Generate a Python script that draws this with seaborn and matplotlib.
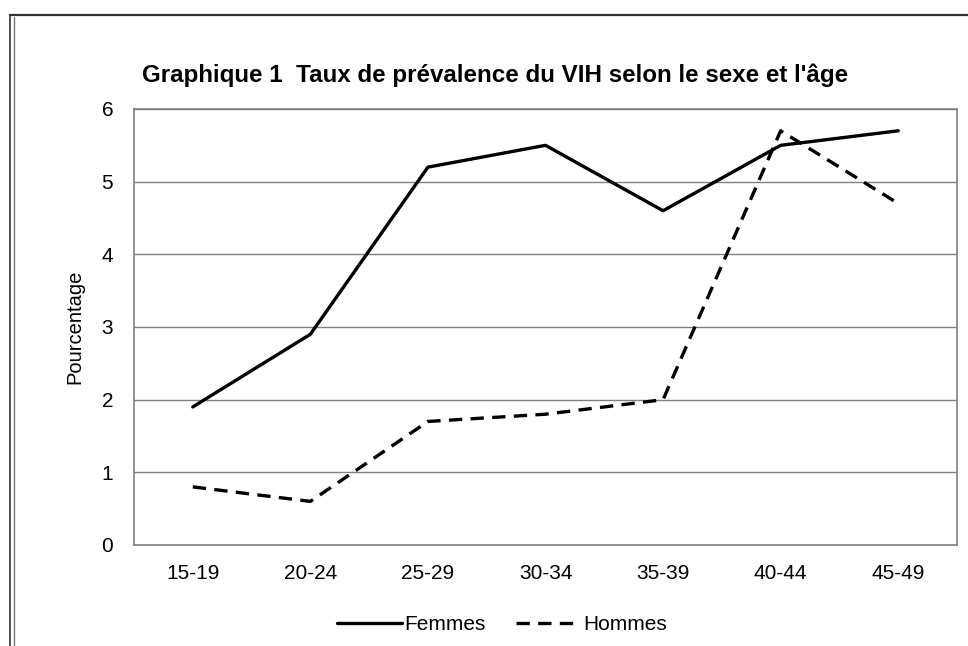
import numpy as np
import pandas as pd
import matplotlib
matplotlib.use("Agg")
import matplotlib.pyplot as plt
import seaborn as sns
from matplotlib.lines import Line2D

# ------------------------------------------------------------
# Données
# ------------------------------------------------------------
groupes_age = ["15-19", "20-24", "25-29", "30-34", "35-39", "40-44", "45-49"]
femmes = [1.9, 2.9, 5.2, 5.5, 4.6, 5.5, 5.7]
hommes = [0.8, 0.6, 1.7, 1.8, 2.0, 5.7, 4.7]

df = pd.DataFrame({
    "age": groupes_age * 2,
    "pos": list(range(len(groupes_age))) * 2,
    "taux": femmes + hommes,
    "sexe": ["Femmes"] * len(femmes) + ["Hommes"] * len(hommes),
})

# ------------------------------------------------------------
# Style
# ------------------------------------------------------------
sns.set_style("white")
plt.rcParams["font.family"] = ["Liberation Sans", "DejaVu Sans"]
plt.rcParams["text.color"] = "black"
plt.rcParams["axes.labelcolor"] = "black"

fig = plt.figure(figsize=(9.68, 6.46), dpi=100)
ax = fig.add_axes([134 / 968, 1 - 545 / 646, (957 - 134) / 968, (545 - 109) / 646])

sns.lineplot(data=df, x="pos", y="taux", hue="sexe", style="sexe",
             palette={"Femmes": "black", "Hommes": "black"},
             dashes={"Femmes": "", "Hommes": (4, 2.5)},
             linewidth=2.4, ax=ax, legend=False)

ax.set_xlim(-0.5, len(groupes_age) - 0.5)
ax.set_ylim(0, 6)
ax.set_yticks(range(0, 7))
ax.set_xticks(range(len(groupes_age)))
ax.set_xticklabels(groupes_age)
ax.tick_params(axis="both", length=0, labelsize=15, colors="black")
ax.tick_params(axis="x", pad=14)
ax.tick_params(axis="y", pad=15)
ax.yaxis.grid(True, color="#808080", linewidth=1)
ax.set_axisbelow(True)
for side in ["left", "right", "top", "bottom"]:
    ax.spines[side].set_color("#808080")
    ax.spines[side].set_linewidth(1.2)
ax.set_xlabel("")
ax.set_ylabel("Pourcentage", fontsize=14.5, labelpad=12, color="black")

fig.text(495 / 968, 1 - 75 / 646,
         "Graphique 1  Taux de prévalence du VIH selon le sexe et l'âge",
         ha="center", va="center", fontsize=17.4, fontweight="bold", color="black")

# légende en bas
handles = [Line2D([], [], color="black", lw=2.4, label="Femmes"),
           Line2D([], [], color="black", lw=2.4, ls=(0, (4, 2.5)), label="Hommes")]
leg = fig.legend(handles=handles, loc="center", bbox_to_anchor=(502 / 968, 1 - 625 / 646),
                 ncol=2, frameon=False, fontsize=15, handlelength=3.1,
                 handletextpad=0.1, columnspacing=1.5)
for t in leg.get_texts():
    t.set_color("black")

# cadre extérieur (double trait à gauche)
fig.add_artist(Line2D([10 / 968, 1], [1 - 15 / 646] * 2, color="#333333", lw=1.6,
                      transform=fig.transFigure))
fig.add_artist(Line2D([10 / 968] * 2, [0, 1 - 15 / 646], color="#333333", lw=1.2,
                      transform=fig.transFigure))
fig.add_artist(Line2D([13.5 / 968] * 2, [0, 1 - 17 / 646], color="#777777", lw=1.0,
                      transform=fig.transFigure))

fig.savefig("out.png", dpi=100)
